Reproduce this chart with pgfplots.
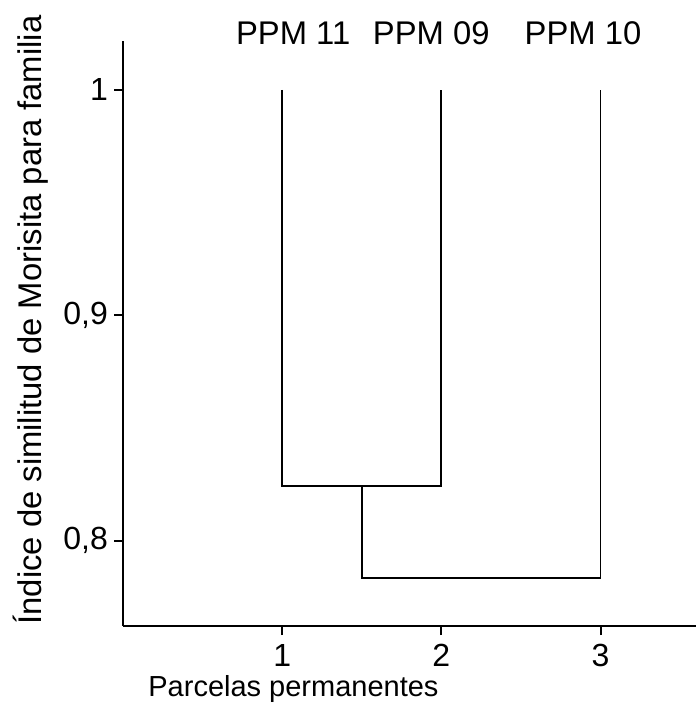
\documentclass[border=0pt]{standalone}
\usepackage{fontspec}
\setmainfont{Liberation Sans}
\usepackage{pgfplots}
\pgfplotsset{compat=1.18}

\begin{document}
\begin{tikzpicture}
\begin{axis}[
    scale only axis,
    width=286.5pt,
    height=292.5pt,
    xmin=0, xmax=3.6,
    ymin=0.7622, ymax=1.0217,
    axis lines=left,
    axis line style={-, line width=1pt},
    tick align=outside,
    major tick length=4.5pt,
    tick style={line width=1pt, black},
    xtick={1,2,3},
    ytick={0.8,0.9,1},
    yticklabels={{0,8},{0,9},{1}},
    minor tick num=0,
    tick label style={font=\fontsize{16}{18}\selectfont},
    /pgf/number format/assume math mode=true,
    xticklabel style={yshift=-1pt},
    yticklabel style={xshift=0.5pt},
    xlabel={Parcelas permanentes},
    ylabel={Índice de similitud de Morisita para familia},
    x label style={at={(rel axis cs:0.0436,0)}, anchor=north west,
        yshift=-24.5pt, inner sep=0pt, font=\fontsize{14.5}{17}\selectfont},
    y label style={at={(rel axis cs:0,0.523)}, anchor=center,
        yshift=46pt, inner sep=0pt, font=\fontsize{16.4}{19}\selectfont},
    clip=false,
]
\addplot[black, line width=0.9pt] coordinates {
    (1,1) (1,0.8244) (2,0.8244) (2,1)
};
\addplot[black, line width=0.9pt] coordinates {
    (1.5,0.8244) (1.5,0.7835) (3,0.7835) (3,1)
};
\coordinate (bl) at (rel axis cs:0,0);
\node[anchor=base, font=\fontsize{16.4}{18}\selectfont] at (axis cs:1.069,1.0202) {PPM 11};
\node[anchor=base, font=\fontsize{16.4}{18}\selectfont] at (axis cs:1.937,1.0202) {PPM 09};
\node[anchor=base, font=\fontsize{16.4}{18}\selectfont] at (axis cs:2.89,1.0202) {PPM 10};
\end{axis}
\path (bl) ++(-61.5pt,-42.5pt) rectangle ++(348pt,355.5pt);
\end{tikzpicture}
\end{document}
